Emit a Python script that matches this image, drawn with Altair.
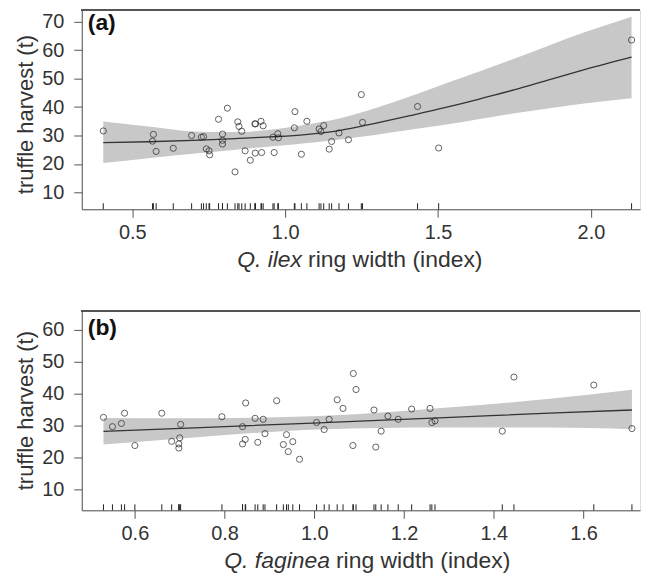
import altair as alt
import pandas as pd

# ---- panel (a): Q. ilex ----
a_x = [0.405, 0.569, 0.566, 0.578, 0.634, 0.694, 0.726, 0.733, 0.742, 0.751, 0.753, 0.782,
       0.811, 0.795, 0.795, 0.795, 0.836, 0.845, 0.849, 0.858, 0.869, 0.886, 0.902, 0.923,
       0.901, 0.903, 0.921, 0.928, 0.964, 0.960, 0.976, 0.978, 1.030, 1.032, 1.053, 1.071,
       1.111, 1.117, 1.126, 1.144, 1.152, 1.176, 1.207, 1.249, 1.253, 1.433, 1.502, 2.133]
a_y = [31.6, 30.4, 28.0, 24.4, 25.5, 30.0, 29.4, 29.6, 25.3, 24.6, 23.2, 35.7,
       39.6, 30.5, 28.3, 27.0, 17.2, 34.8, 33.2, 31.5, 24.6, 21.3, 23.8, 24.0,
       34.1, 34.1, 35.0, 33.4, 24.0, 29.4, 30.6, 29.2, 32.7, 38.4, 23.4, 35.0,
       32.3, 31.4, 33.5, 25.2, 27.9, 30.9, 28.5, 44.4, 34.6, 40.2, 25.6, 63.6]
a_fx = [0.405, 0.552, 0.723, 0.837, 0.951, 1.066, 1.180, 1.294, 1.408, 1.522, 1.637, 1.751, 1.865, 1.979, 2.133]
a_fit = [27.5, 27.8, 28.4, 28.9, 29.5, 30.3, 31.8, 34.3, 37.0, 39.8, 42.9, 46.1, 49.7, 53.2, 57.6]
a_lo = [20.3, 22.0, 23.8, 25.0, 26.1, 27.3, 28.6, 30.2, 32.0, 33.8, 35.8, 37.8, 39.6, 41.3, 43.1]
a_hi = [34.9, 33.2, 31.3, 31.2, 32.0, 33.8, 36.1, 39.6, 43.7, 48.2, 52.6, 57.1, 61.8, 66.3, 71.8]
a_xticks = [0.5, 1.0, 1.5, 2.0]
a_yticks = [10, 20, 30, 40, 50, 60, 70]

# ---- panel (b): Q. faginea ----
b_x = [0.530, 0.550, 0.570, 0.577, 0.600, 0.660, 0.682, 0.702, 0.700, 0.698,
       0.698, 0.794, 0.840, 0.847, 0.846, 0.840, 0.868, 0.886, 0.874, 0.890,
       0.916, 0.938, 0.931, 0.942, 0.952, 0.967, 1.005, 1.022, 1.033, 1.051,
       1.064, 1.093, 1.086, 1.133, 1.149, 1.137, 1.164, 1.187, 1.217, 1.258,
       1.262, 1.269, 1.419, 1.623, 1.708, 1.445, 1.087]
b_y = [32.6, 29.7, 30.7, 33.9, 23.8, 33.9, 25.1, 30.4, 26.2, 24.3,
       23.0, 32.8, 29.7, 37.1, 25.7, 24.3, 32.3, 32.0, 24.8, 27.5,
       37.8, 27.2, 24.1, 21.9, 25.0, 19.5, 31.0, 28.8, 32.0, 38.1,
       35.4, 41.3, 23.8, 34.9, 28.3, 23.3, 33.0, 32.0, 35.2, 35.4,
       31.0, 31.5, 28.3, 42.7, 29.1, 45.2, 46.3]
b_fx = [0.530, 0.746, 1.011, 1.291, 1.524, 1.708]
b_fit = [28.2, 29.4, 30.9, 32.5, 33.9, 34.9]
b_lo = [24.1, 26.5, 28.8, 29.4, 29.4, 28.9]
b_hi = [32.4, 32.3, 33.0, 35.6, 38.4, 41.2]
b_xticks = [0.6, 0.8, 1.0, 1.2, 1.4, 1.6]
b_yticks = [10, 20, 30, 40, 50, 60]

W, H = 560, 200
FONT = "Liberation Sans"
AX = "#555555"
TXT = "#333333"


def panel(px, py, fx, fit, lo, hi, xdom, ydom, xticks, yticks,
          tag, tag_y, species, split, ytitle_y):
    pts = pd.DataFrame({"x": px, "y": py})
    fitdf = pd.DataFrame({"x": fx, "fit": fit, "lo": lo, "hi": hi})
    xs = alt.Scale(domain=xdom, nice=False, zero=False)
    ys = alt.Scale(domain=ydom, nice=False, zero=False)
    xax = alt.Axis(values=xticks, format=".1f", title=None, grid=False,
                   tickSize=8, tickColor=AX, domainColor=AX, labelFont=FONT,
                   labelFontSize=20, labelColor=TXT, labelPadding=5,
                   labelOverlap=False)
    yax = alt.Axis(values=yticks, format="d", title=None, grid=False, tickSize=8,
                   tickColor=AX, domainColor=AX, labelFont=FONT, labelFontSize=20,
                   labelColor=TXT, labelPadding=10, labelOverlap=False)

    def X(f):
        return alt.X(f, type="quantitative", scale=xs, axis=xax)

    def Y(f):
        return alt.Y(f, type="quantitative", scale=ys, axis=yax)

    band = alt.Chart(fitdf).mark_area(color="#c8c8c8", interpolate="monotone").encode(
        x=X("x"), y=Y("lo"), y2="hi:Q")
    line = alt.Chart(fitdf).mark_line(color="#333333", strokeWidth=1.3,
                                      interpolate="monotone").encode(
        x=X("x"), y=Y("fit"))
    dots = alt.Chart(pts).mark_point(shape="circle", filled=False, color="#222222",
                                     size=38, strokeWidth=1).encode(
        x=X("x"), y=Y("y"))
    rug = alt.Chart(pts).mark_rule(color="#222222", strokeWidth=1).encode(
        x=X("x"), y=alt.value(H), y2=alt.value(H - 6))
    top = alt.Chart(pts).mark_rule(color=AX, strokeWidth=1).encode(
        x=alt.value(0), x2=alt.value(W), y=alt.value(0))
    one = pd.DataFrame({"k": [0]})
    tagt = alt.Chart(one).mark_text(font=FONT, fontSize=23, fontWeight="bold",
                                    align="left", baseline="top",
                                    color="#111111").encode(
        x=alt.value(6), y=alt.value(tag_y), text=alt.value(tag))
    xt1 = alt.Chart(one).mark_text(font=FONT, fontSize=23, fontStyle="italic",
                                   align="right", baseline="alphabetic",
                                   color=TXT).encode(
        x=alt.value(split - 6), y=alt.value(H + 58), text=alt.value(species))
    xt2 = alt.Chart(one).mark_text(font=FONT, fontSize=23, align="left",
                                   baseline="alphabetic", color=TXT).encode(
        x=alt.value(split), y=alt.value(H + 58), text=alt.value("ring width (index)"))
    yt = alt.Chart(one).mark_text(font=FONT, fontSize=22, angle=270, align="center",
                                  baseline="alphabetic", color=TXT).encode(
        x=alt.value(-49), y=alt.value(ytitle_y), text=alt.value("truffle harvest (t)"))
    return alt.layer(band, line, dots, rug, top, tagt, xt1, xt2, yt).properties(
        width=W, height=H)


pa = panel(a_x, a_y, a_fx, a_fit, a_lo, a_hi, [0.3347, 2.1606], [4.04, 74.2],
           a_xticks, a_yticks, "(a)", 2, "Q. ilex", 227, 105)
pb = panel(b_x, b_y, b_fx, b_fit, b_lo, b_hi, [0.4816, 1.726], [3.55, 65.86],
           b_xticks, b_yticks, "(b)", 6, "Q. faginea", 255, 100)

chart = alt.vconcat(pa, pb, spacing=37).properties(
    padding={"left": 6, "top": 0, "right": 0, "bottom": 0}
).configure_view(stroke=None).configure(background="white")

chart.save("out.html", embed_options={"renderer": "svg", "actions": False})
